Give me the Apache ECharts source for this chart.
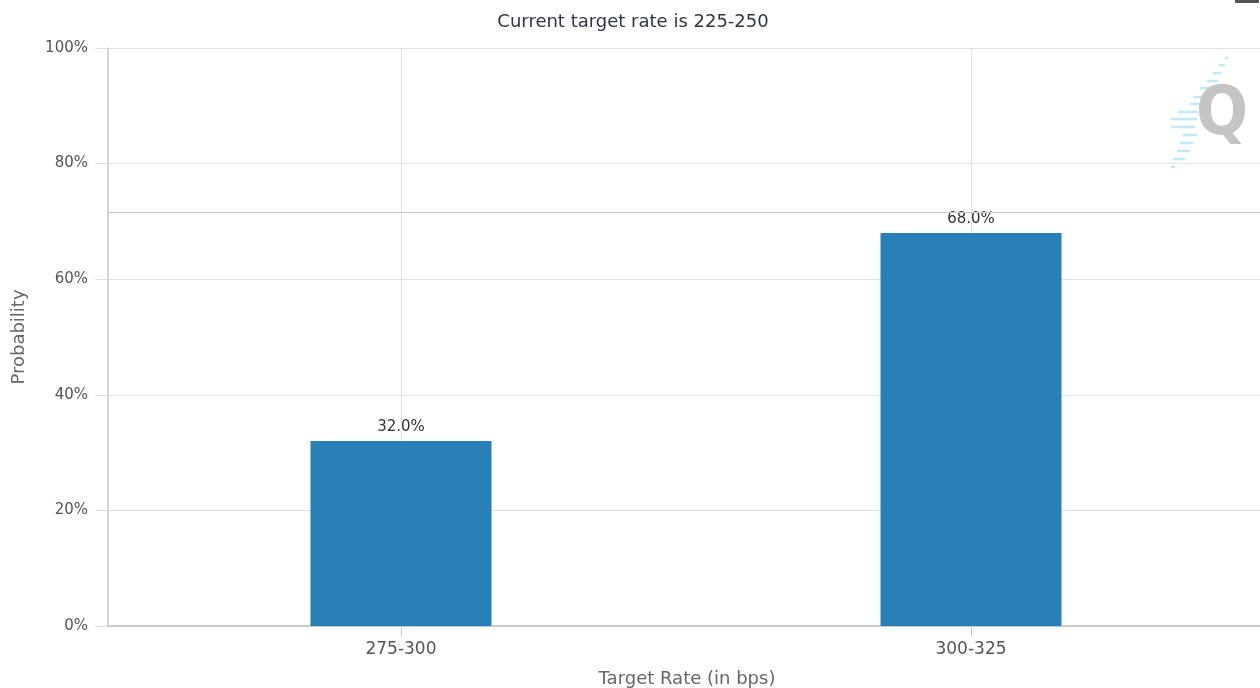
<!DOCTYPE html>
<html>
<head>
<meta charset="utf-8">
<script src="https://cdn.jsdelivr.net/npm/echarts@6/dist/echarts.min.js"></script>
<style>
  html, body { margin: 0; padding: 0; background: #ffffff; }
  #chart { width: 1260px; height: 688px; }
</style>
</head>
<body>
<div id="chart"></div>
<script>
// Target rate buckets and their probabilities (percent)
const categories = ['275-300', '300-325'];
const probabilities = [32.0, 68.0];
const titleText = 'Current target rate is 225-250';
const xAxisTitle = 'Target Rate (in bps)';
const yAxisTitle = 'Probability';
// Horizontal reference level (percent)
const guideLevel = 71.6;

const FONT = '"DejaVu Sans", Verdana, sans-serif';
const barColor = '#2980b9';

// bucket index on a numeric axis so the two bars sit where the buckets are centred
const positions = categories.map((c, i) => i);
const barData = positions.map((p, i) => [p, probabilities[i]]);

const chart = echarts.init(document.getElementById('chart'), null, { renderer: 'canvas' });

// Q logo stripes: [y, x0, x1]
const stripes = [
  [58, 1225, 1228], [65, 1219, 1225], [73, 1213, 1222], [81, 1207, 1218],
  [88, 1200, 1213], [97, 1194, 1204], [104, 1190, 1200], [112, 1178, 1198],
  [119, 1171, 1197], [127, 1171, 1195], [135, 1183, 1197], [143, 1180, 1193],
  [151, 1177, 1190], [159, 1173, 1185], [167, 1171, 1175]
];

chart.setOption({
  animation: false,
  backgroundColor: '#ffffff',
  title: {
    text: titleText,
    left: 628,
    textAlign: 'center',
    top: 8,
    textStyle: { fontFamily: FONT, fontSize: 18, fontWeight: 'normal', color: '#333348' }
  },
  grid: { left: 108, right: 0, top: 48, bottom: 62, containLabel: false, outerBoundsMode: 'none' },
  xAxis: {
    type: 'value',
    min: -0.514,
    max: 1.507,
    name: xAxisTitle,
    nameLocation: 'middle',
    nameGap: 44,
    nameTextStyle: { fontFamily: FONT, fontSize: 18, color: '#666666', padding: [0, 0, 0, 6] },
    axisLine: { show: true, onZero: false, lineStyle: { color: '#c0c0c0', width: 1.5 } },
    axisTick: { show: true, customValues: positions, length: 11, lineStyle: { color: '#cccccc' } },
    axisLabel: {
      customValues: positions,
      margin: 15,
      fontFamily: FONT, fontSize: 17, color: '#555555',
      formatter: v => categories[Math.round(v)]
    },
    splitLine: { show: true, lineStyle: { color: '#e2e2e2', width: 1 } }
  },
  yAxis: {
    type: 'value',
    min: 0,
    max: 100,
    interval: 20,
    name: yAxisTitle,
    nameLocation: 'middle',
    nameGap: 80,
    nameTextStyle: { fontFamily: FONT, fontSize: 18, color: '#666666' },
    axisLine: { show: true, onZero: false, lineStyle: { color: '#c8c8c8', width: 1.5 } },
    axisTick: { show: true, length: 13, lineStyle: { color: '#dddddd' } },
    axisLabel: { margin: 20, fontFamily: FONT, fontSize: 15, color: '#555555', formatter: '{value}%' },
    splitLine: { show: true, lineStyle: { color: '#e2e2e2', width: 1 } }
  },
  series: [{
    type: 'bar',
    data: barData,
    barWidth: 181,
    itemStyle: { color: barColor },
    label: {
      show: true,
      position: 'top',
      distance: 6,
      fontFamily: FONT, fontSize: 15, color: '#333333',
      formatter: p => p.value[1].toFixed(1) + '%'
    },
    markLine: {
      silent: true,
      symbol: 'none',
      label: { show: false },
      lineStyle: { color: '#c8c8c8', width: 1, type: 'solid' },
      data: [{ yAxis: guideLevel }]
    }
  }],
  graphic: [
    // logo stripes
    ...stripes.map(s => ({
      type: 'line', silent: true,
      shape: { x1: s[1], y1: s[0], x2: s[2], y2: s[0] },
      style: { stroke: '#bdeaf9', lineWidth: 2.5 }
    })),
    {
      type: 'text', silent: true, left: 1196, top: 82,
      style: { text: 'Q', font: 'bold 68px "DejaVu Sans Condensed", "DejaVu Sans", sans-serif', fill: '#c4c4c4' }
    },
    {
      type: 'rect', silent: true,
      shape: { x: 1235, y: 0, width: 24, height: 3 },
      style: { fill: '#555555' }
    }
  ]
});
</script>
</body>
</html>
